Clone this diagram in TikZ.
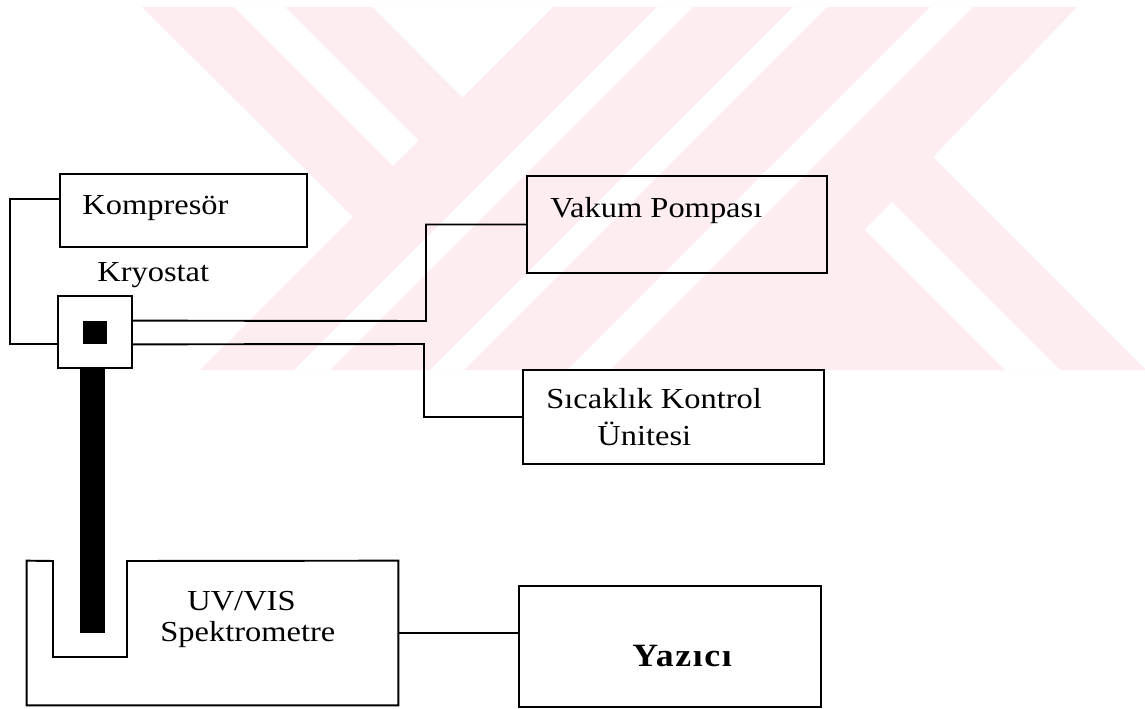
\documentclass[tikz,border=0pt]{standalone}
\usepackage{fontspec}
\setmainfont{Liberation Serif}[FakeStretch=1.12]
\newfontfamily\yazfont{Liberation Serif}[FakeStretch=1.1,LetterSpace=5]
\definecolor{wm}{RGB}{253,237,241}
\begin{document}
\begin{tikzpicture}[x=0.02cm,y=-0.02cm,
  box/.style={draw,line width=1.1pt,inner sep=0pt},
  lbl/.style={inner sep=0pt,anchor=base west,font=\fontsize{16.5pt}{20pt}\selectfont},
  conn/.style={line width=1.1pt}]
\useasboundingbox (0,0) rectangle (1145,709);
\fill[white] (0,0) rectangle (1145,709);
% watermark
\fill[wm] (142,7) -- (1077,7) -- (933,157) -- (1146,370) -- (200,370) -- (353,217) -- cycle;
\fill[white] (234,7) -- (285,7) -- (418.5,140.5) -- (393,166) -- cycle;
\fill[white] (372.5,7) -- (553,7) -- (462.5,97.5) -- cycle;
\fill[white] (657,7) -- (693,7) -- (330,370) -- (294,370) -- cycle;
\fill[white] (793,7) -- (827,7) -- (464,370) -- (430,370) -- cycle;
\fill[white] (930,7) -- (973,7) -- (610,370) -- (567,370) -- cycle;
\fill[white] (892,202) -- (1060,370) -- (1005,370) -- (864.5,229.5) -- cycle;
% boxes
\node[box,minimum width=4.94cm,minimum height=1.46cm] (komp) at (183.5,210.5) {};
\node[box,minimum width=1.48cm,minimum height=1.44cm] (kryo) at (95,332) {};
\node[fill=black,inner sep=0pt,minimum width=0.48cm,minimum height=0.46cm] (core) at (95,332.5) {};
\node[fill=black,inner sep=0pt,anchor=north,minimum width=0.5cm,minimum height=5.3cm] (bar) at (92.5,368) {};
\node[box,minimum width=6.0cm,minimum height=1.94cm] (vak) at (677,224.5) {};
\node[box,minimum width=6.02cm,minimum height=1.88cm] (sic) at (673.5,417) {};
\node[box,minimum width=6.04cm,minimum height=2.42cm] (yaz) at (670,646.5) {};
\node[inner sep=0pt,minimum width=7.42cm,minimum height=2.88cm] (uv) at (212.5,633) {};
\draw[line width=1.1pt,line join=miter] (uv.north west) -- (53,561) -- (53,657) -- (127,657) -- (127,561) -- (uv.north east) -- (uv.south east) -- (uv.south west) -- cycle;
% labels
\node[lbl] (tkomp) at (82,215) {Kompresör};
\node[lbl] (tkryo) at (97,282) {Kryostat};
\node[lbl] (tvak) at (550,218) {Vakum Pompası};
\node[lbl] (tsic1) at (546,408) {Sıcaklık Kontrol};
\node[lbl] (tsic2) at (597,445) {Ünitesi};
\node[lbl] (tuv1) at (187,610) {UV/VIS};
\node[lbl] (tuv2) at (160,641) {Spektrometre};
\node[inner sep=0pt,anchor=base west,font=\yazfont\bfseries\fontsize{18.5pt}{22pt}\selectfont] (tyaz) at (632,666) {Yazıcı};
% connectors
\draw[conn] (komp.west |- 0,199) -- (10,199) |- (kryo.west |- core.south);
\draw[conn] (kryo.east |- core.north) -- (426,321) |- (vak.west);
\draw[conn] (kryo.east |- core.south) -- (424,344) |- (sic.west);
\draw[conn] (uv.east) -- (yaz.west |- uv.east);
\end{tikzpicture}
\end{document}
